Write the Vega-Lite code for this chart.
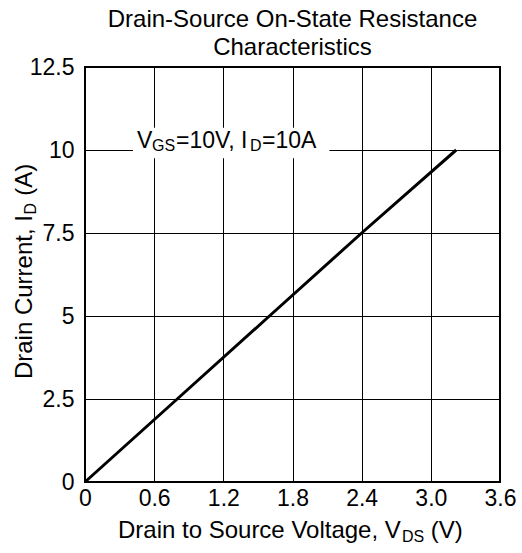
{
  "$schema": "https://vega.github.io/schema/vega-lite/v6.json",
  "width": 415,
  "height": 415,
  "autosize": {"type": "none"},
  "padding": {"left": 85, "top": 67, "right": 22, "bottom": 71},
  "background": "white",
  "title": {
    "text": ["Drain-Source On-State Resistance", "Characteristics"],
    "font": "Liberation Sans",
    "fontSize": 24,
    "fontWeight": "normal",
    "color": "black",
    "anchor": "middle",
    "lineHeight": 28,
    "offset": 10,
    "dy": 14
  },
  "config": {
    "view": {"stroke": "black", "strokeWidth": 2},
    "axis": {
      "labelFont": "Liberation Sans",
      "labelFontSize": 23,
      "labelColor": "black",
      "ticks": false,
      "domain": false,
      "grid": true,
      "gridColor": "black",
      "gridOpacity": 1,
      "gridWidth": 1,
      "labelFlush": false,
      "labelOverlap": false,
      "labelBound": false
    },
    "text": {"font": "Liberation Sans", "color": "black"}
  },
  "datasets": {
    "curve": [
      {"vds": 0, "id": 0},
      {"vds": 0.8, "id": 2.5},
      {"vds": 1.6, "id": 5},
      {"vds": 2.4, "id": 7.5},
      {"vds": 3.22, "id": 10}
    ],
    "box": [{"x1": 0.416, "x2": 2.12, "y1": 9.75, "y2": 10.67}],
    "annMain": [
      {"t": "V", "x": 0.451, "y": 10.06},
      {"t": "=10V, I", "x": 0.789, "y": 10.06},
      {"t": "=10A", "x": 1.535, "y": 10.06}
    ],
    "annSub": [
      {"t": "GS", "x": 0.581, "y": 10.06},
      {"t": "D", "x": 1.431, "y": 10.06}
    ],
    "xTitleMain": [
      {"t": "Drain to Source Voltage, V", "x": 0.286, "y": -1.687},
      {"t": "(V)", "x": 3.0, "y": -1.687}
    ],
    "xTitleSub": [{"t": "DS", "x": 2.75, "y": -1.687}],
    "yTitleMain": [
      {"t": "Drain Current, I", "x": -0.46, "y": 3.1},
      {"t": "(A)", "x": -0.46, "y": 8.62}
    ],
    "yTitleSub": [{"t": "D", "x": -0.46, "y": 8.06}]
  },
  "layer": [
    {
      "data": {"name": "curve"},
      "mark": {"type": "line", "color": "black", "strokeWidth": 3},
      "encoding": {
        "x": {
          "field": "vds",
          "type": "quantitative",
          "scale": {"domain": [0, 3.6], "nice": false, "zero": false},
          "axis": {
            "values": [0, 0.6, 1.2, 1.8, 2.4, 3.0, 3.6],
            "labelExpr": "datum.value == 0 ? '0' : format(datum.value, '.1f')",
            "labelPadding": 5,
            "title": null
          }
        },
        "y": {
          "field": "id",
          "type": "quantitative",
          "scale": {"domain": [0, 12.5], "nice": false},
          "axis": {
            "values": [0, 2.5, 5, 7.5, 10, 12.5],
            "labelExpr": "format(datum.value, '~g')",
            "labelPadding": 11,
            "title": null
          }
        }
      }
    },
    {
      "data": {"name": "box"},
      "mark": {"type": "rect", "fill": "white"},
      "encoding": {
        "x": {"field": "x1", "type": "quantitative"},
        "x2": {"field": "x2"},
        "y": {"field": "y1", "type": "quantitative"},
        "y2": {"field": "y2"}
      }
    },
    {
      "data": {"name": "annMain"},
      "mark": {"type": "text", "fontSize": 23, "align": "left", "baseline": "alphabetic"},
      "encoding": {
        "x": {"field": "x", "type": "quantitative"},
        "y": {"field": "y", "type": "quantitative"},
        "text": {"field": "t"}
      }
    },
    {
      "data": {"name": "annSub"},
      "mark": {"type": "text", "fontSize": 16, "align": "left", "baseline": "alphabetic", "dy": 3},
      "encoding": {
        "x": {"field": "x", "type": "quantitative"},
        "y": {"field": "y", "type": "quantitative"},
        "text": {"field": "t"}
      }
    },
    {
      "data": {"name": "xTitleMain"},
      "mark": {"type": "text", "fontSize": 24, "align": "left", "baseline": "alphabetic"},
      "encoding": {
        "x": {"field": "x", "type": "quantitative"},
        "y": {"field": "y", "type": "quantitative"},
        "text": {"field": "t"}
      }
    },
    {
      "data": {"name": "xTitleSub"},
      "mark": {"type": "text", "fontSize": 16, "align": "left", "baseline": "alphabetic", "dy": 4},
      "encoding": {
        "x": {"field": "x", "type": "quantitative"},
        "y": {"field": "y", "type": "quantitative"},
        "text": {"field": "t"}
      }
    },
    {
      "data": {"name": "yTitleMain"},
      "mark": {"type": "text", "fontSize": 24, "align": "left", "baseline": "alphabetic", "angle": 270},
      "encoding": {
        "x": {"field": "x", "type": "quantitative"},
        "y": {"field": "y", "type": "quantitative"},
        "text": {"field": "t"}
      }
    },
    {
      "data": {"name": "yTitleSub"},
      "mark": {"type": "text", "fontSize": 16, "align": "left", "baseline": "alphabetic", "angle": 270, "dy": 4},
      "encoding": {
        "x": {"field": "x", "type": "quantitative"},
        "y": {"field": "y", "type": "quantitative"},
        "text": {"field": "t"}
      }
    }
  ]
}
